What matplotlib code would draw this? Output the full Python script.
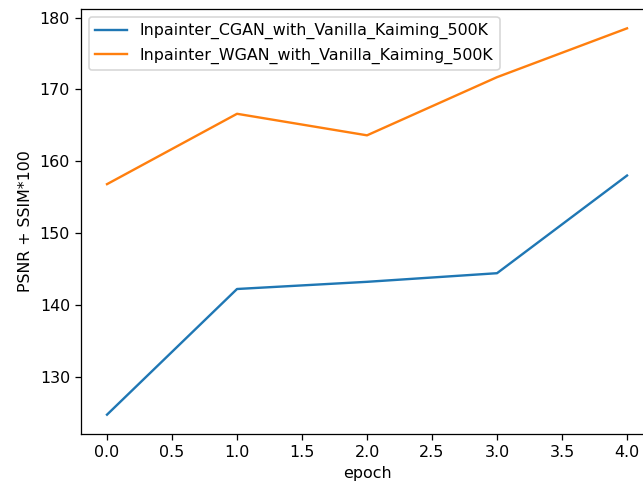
import matplotlib
matplotlib.use("Agg")
import matplotlib.pyplot as plt

epochs = [0, 1, 2, 3, 4]
cgan_scores = [124.7, 142.2, 143.2, 144.4, 158.0]
wgan_scores = [156.8, 166.6, 163.6, 171.7, 178.5]

cgan_label = "Inpainter_CGAN_with_Vanilla_Kaiming_500K"
wgan_label = "Inpainter_WGAN_with_Vanilla_Kaiming_500K"

DPI = 114
fig = plt.figure(figsize=(643 / DPI, 485 / DPI), dpi=DPI)
# axes run a bit past the right edge, like the cropped original
ax = fig.add_axes([0.126, 0.1052, 1.0156 - 0.126, 0.9814 - 0.1052])
ax.plot(epochs, cgan_scores, label=cgan_label)
ax.plot(epochs, wgan_scores, label=wgan_label)
ax.set_xlabel("epoch")
ax.set_ylabel("PSNR + SSIM*100")
ax.legend(loc="upper left")
fig.savefig("out.png", dpi=DPI)
